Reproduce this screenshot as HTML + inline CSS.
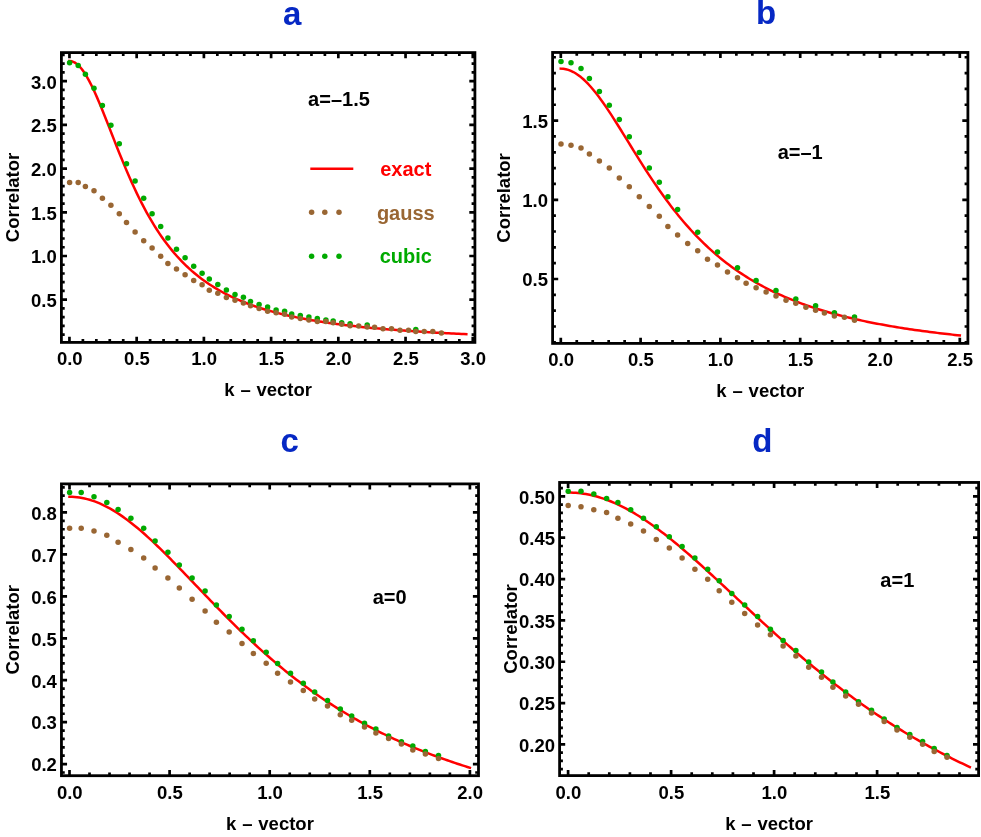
<!DOCTYPE html>
<html><head><meta charset="utf-8"><title>Correlator plots</title>
<style>
html,body{margin:0;padding:0;background:#fff;}
svg{display:block;will-change:transform;}
text{font-family:"Liberation Sans",sans-serif;font-weight:bold;}
.lb{font-size:18.5px;fill:#000;}
.an{font-size:20px;fill:#000;}
.tt{font-size:33px;fill:#0628c4;}
</style></head><body>
<svg width="981" height="837" viewBox="0 0 981 837">
<rect x="0" y="0" width="981" height="837" fill="#ffffff"/>
<g id="panel-a">
<polyline points="69.45,61.00 71.95,61.35 74.44,62.37 76.94,64.05 79.43,66.38 81.93,69.31 84.43,72.82 86.92,76.84 89.42,81.34 91.91,86.26 94.41,91.54 96.91,97.13 99.40,102.97 101.90,109.02 104.39,115.21 106.89,121.51 109.39,127.87 111.88,134.24 114.38,140.61 116.87,146.93 119.37,153.17 121.87,159.32 124.36,165.36 126.86,171.26 129.35,177.02 131.85,182.63 134.35,188.08 136.84,193.36 139.34,198.47 141.83,203.41 144.33,208.18 146.83,212.78 149.32,217.22 151.82,221.48 154.31,225.59 156.81,229.54 159.31,233.33 161.80,236.97 164.30,240.47 166.79,243.83 169.29,247.06 171.79,250.15 174.28,253.12 176.78,255.97 179.27,258.71 181.77,261.34 184.27,263.86 186.76,266.28 189.26,268.60 191.75,270.83 194.25,272.97 196.75,275.03 199.24,277.01 201.74,278.91 204.23,280.74 206.73,282.50 209.23,284.19 211.72,285.81 214.22,287.38 216.72,288.89 219.21,290.34 221.71,291.73 224.20,293.08 226.70,294.38 229.20,295.63 231.69,296.83 234.19,298.00 236.68,299.12 239.18,300.20 241.68,301.25 244.17,302.26 246.67,303.24 249.16,304.18 251.66,305.09 254.16,305.97 256.65,306.83 259.15,307.65 261.64,308.45 264.14,309.22 266.64,309.97 269.13,310.70 271.63,311.40 274.12,312.08 276.62,312.74 279.12,313.38 281.61,314.00 284.11,314.60 286.60,315.18 289.10,315.75 291.60,316.30 294.09,316.83 296.59,317.35 299.08,317.86 301.58,318.35 304.08,318.82 306.57,319.29 309.07,319.74 311.56,320.18 314.06,320.60 316.56,321.02 319.05,321.42 321.55,321.82 324.04,322.20 326.54,322.57 329.04,322.93 331.53,323.29 334.03,323.63 336.52,323.97 339.02,324.30 341.52,324.62 344.01,324.93 346.51,325.23 349.00,325.53 351.50,325.82 354.00,326.10 356.49,326.38 358.99,326.65 361.48,326.91 363.98,327.17 366.48,327.42 368.97,327.67 371.47,327.91 373.96,328.14 376.46,328.37 378.96,328.60 381.45,328.82 383.95,329.03 386.44,329.24 388.94,329.45 391.44,329.65 393.93,329.84 396.43,330.04 398.92,330.22 401.42,330.41 403.92,330.59 406.41,330.77 408.91,330.94 411.40,331.11 413.90,331.28 416.40,331.44 418.89,331.60 421.39,331.76 423.88,331.91 426.38,332.06 428.88,332.21 431.37,332.35 433.87,332.49 436.36,332.63 438.86,332.77 441.36,332.90 443.85,333.04 446.35,333.16 448.84,333.29 451.34,333.42 453.84,333.54 456.33,333.66 458.83,333.78 461.32,333.89 463.82,334.00 466.32,334.12" fill="none" stroke="#ff0000" stroke-width="2.5" stroke-linecap="square" stroke-linejoin="round"/>
<g fill="#00aa00"><circle cx="69.6" cy="62.8" r="2.75"/><circle cx="78.2" cy="65.4" r="2.75"/><circle cx="85.4" cy="74.2" r="2.75"/><circle cx="94.0" cy="88.3" r="2.75"/><circle cx="102.4" cy="105.4" r="2.75"/><circle cx="110.9" cy="125.3" r="2.75"/><circle cx="119.3" cy="143.7" r="2.75"/><circle cx="126.5" cy="163.7" r="2.75"/><circle cx="135.1" cy="181.0" r="2.75"/><circle cx="143.7" cy="198.2" r="2.75"/><circle cx="152.1" cy="213.7" r="2.75"/><circle cx="160.7" cy="226.6" r="2.75"/><circle cx="167.9" cy="237.9" r="2.75"/><circle cx="176.5" cy="249.3" r="2.75"/><circle cx="185.1" cy="257.7" r="2.75"/><circle cx="193.7" cy="266.3" r="2.75"/><circle cx="202.1" cy="273.3" r="2.75"/><circle cx="209.3" cy="278.9" r="2.75"/><circle cx="217.8" cy="284.5" r="2.75"/><circle cx="226.4" cy="290.1" r="2.75"/><circle cx="235.0" cy="294.5" r="2.75"/><circle cx="243.4" cy="297.3" r="2.75"/><circle cx="250.5" cy="301.6" r="2.75"/><circle cx="259.1" cy="304.5" r="2.75"/><circle cx="267.6" cy="307.1" r="2.75"/><circle cx="276.1" cy="310.0" r="2.75"/><circle cx="284.6" cy="311.3" r="2.75"/><circle cx="291.7" cy="314.0" r="2.75"/><circle cx="300.3" cy="315.6" r="2.75"/><circle cx="308.9" cy="317.1" r="2.75"/><circle cx="317.3" cy="318.6" r="2.75"/><circle cx="325.9" cy="319.9" r="2.75"/><circle cx="333.2" cy="321.1" r="2.75"/><circle cx="341.7" cy="322.8" r="2.75"/><circle cx="350.1" cy="323.8" r="2.75"/><circle cx="367.2" cy="325.0" r="2.75"/><circle cx="415.8" cy="329.5" r="2.75"/></g>
<g fill="#996633"><circle cx="69.6" cy="182.4" r="2.75"/><circle cx="78.2" cy="182.4" r="2.75"/><circle cx="85.4" cy="186.6" r="2.75"/><circle cx="94.0" cy="190.8" r="2.75"/><circle cx="102.4" cy="198.2" r="2.75"/><circle cx="110.9" cy="205.2" r="2.75"/><circle cx="119.3" cy="213.8" r="2.75"/><circle cx="126.5" cy="222.4" r="2.75"/><circle cx="135.1" cy="232.1" r="2.75"/><circle cx="143.7" cy="240.7" r="2.75"/><circle cx="152.1" cy="247.9" r="2.75"/><circle cx="160.7" cy="256.3" r="2.75"/><circle cx="167.9" cy="263.5" r="2.75"/><circle cx="176.5" cy="269.1" r="2.75"/><circle cx="185.1" cy="274.7" r="2.75"/><circle cx="193.7" cy="280.5" r="2.75"/><circle cx="202.1" cy="284.7" r="2.75"/><circle cx="209.3" cy="290.3" r="2.75"/><circle cx="217.8" cy="293.3" r="2.75"/><circle cx="226.4" cy="297.5" r="2.75"/><circle cx="235.0" cy="300.3" r="2.75"/><circle cx="243.4" cy="303.0" r="2.75"/><circle cx="250.5" cy="305.8" r="2.75"/><circle cx="259.1" cy="308.5" r="2.75"/><circle cx="267.6" cy="311.2" r="2.75"/><circle cx="276.1" cy="312.8" r="2.75"/><circle cx="284.6" cy="314.3" r="2.75"/><circle cx="291.7" cy="317.1" r="2.75"/><circle cx="300.3" cy="318.6" r="2.75"/><circle cx="308.9" cy="319.9" r="2.75"/><circle cx="317.3" cy="321.4" r="2.75"/><circle cx="325.9" cy="321.4" r="2.75"/><circle cx="333.2" cy="322.8" r="2.75"/><circle cx="341.7" cy="324.2" r="2.75"/><circle cx="350.1" cy="325.7" r="2.75"/><circle cx="358.7" cy="326.0" r="2.75"/><circle cx="367.2" cy="327.1" r="2.75"/><circle cx="374.6" cy="327.3" r="2.75"/><circle cx="383.0" cy="328.7" r="2.75"/><circle cx="391.5" cy="328.7" r="2.75"/><circle cx="400.0" cy="330.2" r="2.75"/><circle cx="408.5" cy="330.2" r="2.75"/><circle cx="415.8" cy="331.4" r="2.75"/><circle cx="424.2" cy="331.4" r="2.75"/><circle cx="432.8" cy="331.6" r="2.75"/><circle cx="441.4" cy="333.0" r="2.75"/></g>
<path d="M69.45 342.40v-5.60M69.45 52.60v5.60M82.89 342.40v-3.30M82.89 52.60v3.30M96.34 342.40v-3.30M96.34 52.60v3.30M109.78 342.40v-3.30M109.78 52.60v3.30M123.23 342.40v-3.30M123.23 52.60v3.30M136.67 342.40v-5.60M136.67 52.60v5.60M150.11 342.40v-3.30M150.11 52.60v3.30M163.56 342.40v-3.30M163.56 52.60v3.30M177.00 342.40v-3.30M177.00 52.60v3.30M190.45 342.40v-3.30M190.45 52.60v3.30M203.89 342.40v-5.60M203.89 52.60v5.60M217.33 342.40v-3.30M217.33 52.60v3.30M230.78 342.40v-3.30M230.78 52.60v3.30M244.22 342.40v-3.30M244.22 52.60v3.30M257.67 342.40v-3.30M257.67 52.60v3.30M271.11 342.40v-5.60M271.11 52.60v5.60M284.55 342.40v-3.30M284.55 52.60v3.30M298.00 342.40v-3.30M298.00 52.60v3.30M311.44 342.40v-3.30M311.44 52.60v3.30M324.89 342.40v-3.30M324.89 52.60v3.30M338.33 342.40v-5.60M338.33 52.60v5.60M351.77 342.40v-3.30M351.77 52.60v3.30M365.22 342.40v-3.30M365.22 52.60v3.30M378.66 342.40v-3.30M378.66 52.60v3.30M392.11 342.40v-3.30M392.11 52.60v3.30M405.55 342.40v-5.60M405.55 52.60v5.60M418.99 342.40v-3.30M418.99 52.60v3.30M432.44 342.40v-3.30M432.44 52.60v3.30M445.88 342.40v-3.30M445.88 52.60v3.30M459.33 342.40v-3.30M459.33 52.60v3.30M472.77 342.40v-5.60M472.77 52.60v5.60M61.40 334.66h3.30M474.90 334.66h-3.30M61.40 325.92h3.30M474.90 325.92h-3.30M61.40 317.18h3.30M474.90 317.18h-3.30M61.40 308.44h3.30M474.90 308.44h-3.30M61.40 299.70h5.60M474.90 299.70h-5.60M61.40 290.96h3.30M474.90 290.96h-3.30M61.40 282.22h3.30M474.90 282.22h-3.30M61.40 273.48h3.30M474.90 273.48h-3.30M61.40 264.74h3.30M474.90 264.74h-3.30M61.40 256.00h5.60M474.90 256.00h-5.60M61.40 247.26h3.30M474.90 247.26h-3.30M61.40 238.52h3.30M474.90 238.52h-3.30M61.40 229.78h3.30M474.90 229.78h-3.30M61.40 221.04h3.30M474.90 221.04h-3.30M61.40 212.30h5.60M474.90 212.30h-5.60M61.40 203.56h3.30M474.90 203.56h-3.30M61.40 194.82h3.30M474.90 194.82h-3.30M61.40 186.08h3.30M474.90 186.08h-3.30M61.40 177.34h3.30M474.90 177.34h-3.30M61.40 168.60h5.60M474.90 168.60h-5.60M61.40 159.86h3.30M474.90 159.86h-3.30M61.40 151.12h3.30M474.90 151.12h-3.30M61.40 142.38h3.30M474.90 142.38h-3.30M61.40 133.64h3.30M474.90 133.64h-3.30M61.40 124.90h5.60M474.90 124.90h-5.60M61.40 116.16h3.30M474.90 116.16h-3.30M61.40 107.42h3.30M474.90 107.42h-3.30M61.40 98.68h3.30M474.90 98.68h-3.30M61.40 89.94h3.30M474.90 89.94h-3.30M61.40 81.20h5.60M474.90 81.20h-5.60M61.40 72.46h3.30M474.90 72.46h-3.30M61.40 63.72h3.30M474.90 63.72h-3.30M61.40 54.98h3.30M474.90 54.98h-3.30" stroke="#000" stroke-width="2.7" fill="none"/>
<rect x="61.40" y="52.60" width="413.50" height="289.80" fill="none" stroke="#000" stroke-width="2.8"/>
<text class="lb" x="69.75" y="365.40" text-anchor="middle">0.0</text><text class="lb" x="136.97" y="365.40" text-anchor="middle">0.5</text><text class="lb" x="204.19" y="365.40" text-anchor="middle">1.0</text><text class="lb" x="271.41" y="365.40" text-anchor="middle">1.5</text><text class="lb" x="338.63" y="365.40" text-anchor="middle">2.0</text><text class="lb" x="405.85" y="365.40" text-anchor="middle">2.5</text><text class="lb" x="473.07" y="365.40" text-anchor="middle">3.0</text>
<text class="lb" x="56.80" y="307.00" text-anchor="end">0.5</text><text class="lb" x="56.80" y="263.30" text-anchor="end">1.0</text><text class="lb" x="56.80" y="219.60" text-anchor="end">1.5</text><text class="lb" x="56.80" y="175.90" text-anchor="end">2.0</text><text class="lb" x="56.80" y="132.20" text-anchor="end">2.5</text><text class="lb" x="56.80" y="88.50" text-anchor="end">3.0</text>
<text class="lb" x="268.15" y="396.40" text-anchor="middle" style="word-spacing:0.7px" xml:space="preserve">k – vector</text>
<text class="lb" transform="translate(19.20 197.50) rotate(-90)" text-anchor="middle">Correlator</text>
<text class="tt" x="292.2" y="24.8" text-anchor="middle">a</text>
<text class="an" x="338.95" y="105.80" text-anchor="middle">a=–1.5</text>
<line x1="310.3" y1="168.7" x2="353.3" y2="168.7" stroke="#ff0000" stroke-width="2.5"/>
<circle cx="311.6" cy="212.2" r="2.75" fill="#996633"/><circle cx="324.8" cy="212.2" r="2.75" fill="#996633"/><circle cx="339.0" cy="212.2" r="2.75" fill="#996633"/><circle cx="311.6" cy="256.2" r="2.75" fill="#00aa00"/><circle cx="324.8" cy="256.2" r="2.75" fill="#00aa00"/><circle cx="339.0" cy="256.2" r="2.75" fill="#00aa00"/>
<text class="an" x="405.8" y="175.5" text-anchor="middle" style="fill:#ff0000">exact</text>
<text class="an" x="405.8" y="219.7" text-anchor="middle" style="fill:#996633">gauss</text>
<text class="an" x="405.8" y="263.4" text-anchor="middle" style="fill:#00aa00">cubic</text>
</g>
<g id="panel-b">
<polyline points="560.80,68.66 563.31,68.79 565.82,69.20 568.33,69.88 570.84,70.82 573.35,72.02 575.86,73.47 578.37,75.17 580.88,77.10 583.38,79.26 585.89,81.64 588.40,84.22 590.91,86.99 593.42,89.94 595.93,93.05 598.44,96.32 600.95,99.72 603.46,103.24 605.97,106.88 608.48,110.61 610.99,114.42 613.50,118.31 616.01,122.25 618.52,126.24 621.03,130.27 623.54,134.32 626.05,138.38 628.55,142.45 631.06,146.52 633.57,150.58 636.08,154.61 638.59,158.63 641.10,162.61 643.61,166.55 646.12,170.45 648.63,174.31 651.14,178.11 653.65,181.87 656.16,185.56 658.67,189.19 661.18,192.77 663.69,196.28 666.20,199.72 668.71,203.10 671.22,206.41 673.72,209.65 676.23,212.83 678.74,215.94 681.25,218.98 683.76,221.95 686.27,224.86 688.78,227.70 691.29,230.47 693.80,233.18 696.31,235.82 698.82,238.40 701.33,240.92 703.84,243.37 706.35,245.77 708.86,248.10 711.37,250.38 713.88,252.61 716.38,254.77 718.89,256.88 721.40,258.94 723.91,260.95 726.42,262.91 728.93,264.81 731.44,266.67 733.95,268.48 736.46,270.25 738.97,271.97 741.48,273.65 743.99,275.29 746.50,276.88 749.01,278.44 751.52,279.95 754.03,281.43 756.54,282.87 759.05,284.28 761.55,285.65 764.06,286.99 766.57,288.29 769.08,289.56 771.59,290.80 774.10,292.02 776.61,293.20 779.12,294.35 781.63,295.48 784.14,296.57 786.65,297.65 789.16,298.69 791.67,299.71 794.18,300.71 796.69,301.69 799.20,302.64 801.71,303.57 804.22,304.47 806.72,305.36 809.23,306.23 811.74,307.08 814.25,307.90 816.76,308.71 819.27,309.50 821.78,310.28 824.29,311.03 826.80,311.77 829.31,312.50 831.82,313.20 834.33,313.89 836.84,314.57 839.35,315.23 841.86,315.88 844.37,316.52 846.88,317.14 849.38,317.75 851.89,318.34 854.40,318.92 856.91,319.49 859.42,320.05 861.93,320.60 864.44,321.14 866.95,321.66 869.46,322.17 871.97,322.68 874.48,323.17 876.99,323.66 879.50,324.13 882.01,324.60 884.52,325.05 887.03,325.50 889.54,325.94 892.05,326.37 894.55,326.79 897.06,327.21 899.57,327.61 902.08,328.01 904.59,328.40 907.10,328.78 909.61,329.16 912.12,329.53 914.63,329.89 917.14,330.25 919.65,330.60 922.16,330.94 924.67,331.28 927.18,331.61 929.69,331.94 932.20,332.26 934.71,332.57 937.22,332.88 939.72,333.18 942.23,333.48 944.74,333.77 947.25,334.06 949.76,334.34 952.27,334.62 954.78,334.89 957.29,335.16 959.80,335.42" fill="none" stroke="#ff0000" stroke-width="2.5" stroke-linecap="square" stroke-linejoin="round"/>
<g fill="#00aa00"><circle cx="561.0" cy="61.4" r="2.75"/><circle cx="571.0" cy="62.8" r="2.75"/><circle cx="581.0" cy="68.6" r="2.75"/><circle cx="589.4" cy="78.6" r="2.75"/><circle cx="599.4" cy="91.4" r="2.75"/><circle cx="609.3" cy="105.3" r="2.75"/><circle cx="619.3" cy="119.5" r="2.75"/><circle cx="629.3" cy="136.7" r="2.75"/><circle cx="639.3" cy="152.5" r="2.75"/><circle cx="649.3" cy="168.1" r="2.75"/><circle cx="659.3" cy="182.3" r="2.75"/><circle cx="667.9" cy="196.7" r="2.75"/><circle cx="677.6" cy="209.4" r="2.75"/><circle cx="697.7" cy="232.3" r="2.75"/><circle cx="717.5" cy="252.1" r="2.75"/><circle cx="737.5" cy="267.7" r="2.75"/><circle cx="756.1" cy="280.5" r="2.75"/><circle cx="776.0" cy="290.5" r="2.75"/><circle cx="795.8" cy="298.9" r="2.75"/><circle cx="815.6" cy="305.8" r="2.75"/><circle cx="834.4" cy="312.8" r="2.75"/><circle cx="854.5" cy="317.1" r="2.75"/></g>
<g fill="#996633"><circle cx="561.0" cy="143.9" r="2.75"/><circle cx="571.0" cy="145.3" r="2.75"/><circle cx="581.0" cy="148.1" r="2.75"/><circle cx="589.4" cy="153.9" r="2.75"/><circle cx="599.4" cy="160.9" r="2.75"/><circle cx="609.3" cy="168.1" r="2.75"/><circle cx="619.3" cy="178.1" r="2.75"/><circle cx="629.3" cy="186.7" r="2.75"/><circle cx="639.3" cy="196.7" r="2.75"/><circle cx="649.3" cy="206.5" r="2.75"/><circle cx="659.3" cy="216.2" r="2.75"/><circle cx="667.9" cy="226.6" r="2.75"/><circle cx="677.6" cy="234.9" r="2.75"/><circle cx="687.7" cy="243.5" r="2.75"/><circle cx="697.7" cy="250.7" r="2.75"/><circle cx="707.5" cy="259.3" r="2.75"/><circle cx="717.5" cy="264.9" r="2.75"/><circle cx="727.5" cy="271.9" r="2.75"/><circle cx="737.5" cy="277.7" r="2.75"/><circle cx="746.1" cy="283.3" r="2.75"/><circle cx="756.1" cy="287.7" r="2.75"/><circle cx="766.1" cy="291.9" r="2.75"/><circle cx="776.0" cy="296.1" r="2.75"/><circle cx="786.0" cy="300.3" r="2.75"/><circle cx="795.8" cy="303.3" r="2.75"/><circle cx="805.9" cy="307.3" r="2.75"/><circle cx="815.6" cy="310.3" r="2.75"/><circle cx="824.4" cy="313.1" r="2.75"/><circle cx="834.4" cy="315.9" r="2.75"/><circle cx="844.4" cy="317.3" r="2.75"/><circle cx="854.5" cy="320.2" r="2.75"/></g>
<path d="M560.80 343.40v-5.60M560.80 52.45v5.60M576.76 343.40v-3.30M576.76 52.45v3.30M592.72 343.40v-3.30M592.72 52.45v3.30M608.68 343.40v-3.30M608.68 52.45v3.30M624.64 343.40v-3.30M624.64 52.45v3.30M640.60 343.40v-5.60M640.60 52.45v5.60M656.56 343.40v-3.30M656.56 52.45v3.30M672.52 343.40v-3.30M672.52 52.45v3.30M688.48 343.40v-3.30M688.48 52.45v3.30M704.44 343.40v-3.30M704.44 52.45v3.30M720.40 343.40v-5.60M720.40 52.45v5.60M736.36 343.40v-3.30M736.36 52.45v3.30M752.32 343.40v-3.30M752.32 52.45v3.30M768.28 343.40v-3.30M768.28 52.45v3.30M784.24 343.40v-3.30M784.24 52.45v3.30M800.20 343.40v-5.60M800.20 52.45v5.60M816.16 343.40v-3.30M816.16 52.45v3.30M832.12 343.40v-3.30M832.12 52.45v3.30M848.08 343.40v-3.30M848.08 52.45v3.30M864.04 343.40v-3.30M864.04 52.45v3.30M880.00 343.40v-5.60M880.00 52.45v5.60M895.96 343.40v-3.30M895.96 52.45v3.30M911.92 343.40v-3.30M911.92 52.45v3.30M927.88 343.40v-3.30M927.88 52.45v3.30M943.84 343.40v-3.30M943.84 52.45v3.30M959.80 343.40v-5.60M959.80 52.45v5.60M552.60 342.36h3.30M967.90 342.36h-3.30M552.60 326.52h3.30M967.90 326.52h-3.30M552.60 310.68h3.30M967.90 310.68h-3.30M552.60 294.84h3.30M967.90 294.84h-3.30M552.60 279.00h5.60M967.90 279.00h-5.60M552.60 263.16h3.30M967.90 263.16h-3.30M552.60 247.32h3.30M967.90 247.32h-3.30M552.60 231.48h3.30M967.90 231.48h-3.30M552.60 215.64h3.30M967.90 215.64h-3.30M552.60 199.80h5.60M967.90 199.80h-5.60M552.60 183.96h3.30M967.90 183.96h-3.30M552.60 168.12h3.30M967.90 168.12h-3.30M552.60 152.28h3.30M967.90 152.28h-3.30M552.60 136.44h3.30M967.90 136.44h-3.30M552.60 120.60h5.60M967.90 120.60h-5.60M552.60 104.76h3.30M967.90 104.76h-3.30M552.60 88.92h3.30M967.90 88.92h-3.30M552.60 73.08h3.30M967.90 73.08h-3.30M552.60 57.24h3.30M967.90 57.24h-3.30" stroke="#000" stroke-width="2.7" fill="none"/>
<rect x="552.60" y="52.45" width="415.30" height="290.95" fill="none" stroke="#000" stroke-width="2.8"/>
<text class="lb" x="561.10" y="366.40" text-anchor="middle">0.0</text><text class="lb" x="640.90" y="366.40" text-anchor="middle">0.5</text><text class="lb" x="720.70" y="366.40" text-anchor="middle">1.0</text><text class="lb" x="800.50" y="366.40" text-anchor="middle">1.5</text><text class="lb" x="880.30" y="366.40" text-anchor="middle">2.0</text><text class="lb" x="960.10" y="366.40" text-anchor="middle">2.5</text>
<text class="lb" x="548.00" y="286.30" text-anchor="end">0.5</text><text class="lb" x="548.00" y="207.10" text-anchor="end">1.0</text><text class="lb" x="548.00" y="127.90" text-anchor="end">1.5</text>
<text class="lb" x="760.25" y="397.40" text-anchor="middle" style="word-spacing:0.7px" xml:space="preserve">k – vector</text>
<text class="lb" transform="translate(510.40 197.92) rotate(-90)" text-anchor="middle">Correlator</text>
<text class="tt" x="766" y="24.3" text-anchor="middle">b</text>
<text class="an" x="800.20" y="159.30" text-anchor="middle">a=–1</text>
</g>
<g id="panel-c">
<polyline points="69.50,496.80 72.02,496.85 74.54,496.99 77.05,497.22 79.57,497.55 82.09,497.97 84.61,498.48 87.13,499.09 89.65,499.78 92.16,500.57 94.68,501.44 97.20,502.40 99.72,503.44 102.24,504.57 104.76,505.77 107.27,507.06 109.79,508.43 112.31,509.87 114.83,511.39 117.35,512.98 119.86,514.64 122.38,516.37 124.90,518.16 127.42,520.01 129.94,521.93 132.46,523.90 134.97,525.93 137.49,528.01 140.01,530.14 142.53,532.32 145.05,534.54 147.57,536.81 150.08,539.11 152.60,541.46 155.12,543.84 157.64,546.25 160.16,548.69 162.67,551.16 165.19,553.65 167.71,556.17 170.23,558.71 172.75,561.27 175.27,563.85 177.78,566.44 180.30,569.04 182.82,571.65 185.34,574.27 187.86,576.90 190.38,579.53 192.89,582.17 195.41,584.81 197.93,587.44 200.45,590.08 202.97,592.71 205.48,595.34 208.00,597.96 210.52,600.58 213.04,603.18 215.56,605.78 218.08,608.36 220.59,610.94 223.11,613.50 225.63,616.04 228.15,618.58 230.67,621.09 233.19,623.59 235.70,626.08 238.22,628.54 240.74,630.99 243.26,633.42 245.78,635.83 248.29,638.21 250.81,640.58 253.33,642.93 255.85,645.26 258.37,647.56 260.89,649.84 263.40,652.10 265.92,654.34 268.44,656.55 270.96,658.75 273.48,660.92 276.00,663.06 278.51,665.18 281.03,667.28 283.55,669.36 286.07,671.41 288.59,673.44 291.11,675.44 293.62,677.43 296.14,679.39 298.66,681.32 301.18,683.23 303.70,685.12 306.21,686.99 308.73,688.83 311.25,690.65 313.77,692.44 316.29,694.22 318.81,695.97 321.32,697.70 323.84,699.41 326.36,701.09 328.88,702.75 331.40,704.40 333.92,706.02 336.43,707.62 338.95,709.19 341.47,710.75 343.99,712.29 346.51,713.80 349.02,715.30 351.54,716.78 354.06,718.23 356.58,719.67 359.10,721.09 361.62,722.49 364.13,723.87 366.65,725.23 369.17,726.57 371.69,727.89 374.21,729.20 376.73,730.49 379.24,731.76 381.76,733.02 384.28,734.25 386.80,735.47 389.32,736.68 391.83,737.87 394.35,739.04 396.87,740.19 399.39,741.33 401.91,742.46 404.43,743.57 406.94,744.66 409.46,745.74 411.98,746.81 414.50,747.86 417.02,748.90 419.54,749.92 422.05,750.93 424.57,751.92 427.09,752.90 429.61,753.87 432.13,754.83 434.64,755.77 437.16,756.70 439.68,757.62 442.20,758.53 444.72,759.42 447.24,760.30 449.75,761.17 452.27,762.03 454.79,762.88 457.31,763.71 459.83,764.54 462.35,765.35 464.86,766.16 467.38,766.95 469.90,767.73" fill="none" stroke="#ff0000" stroke-width="2.5" stroke-linecap="square" stroke-linejoin="round"/>
<g fill="#00aa00"><circle cx="69.6" cy="492.4" r="2.75"/><circle cx="81.2" cy="492.4" r="2.75"/><circle cx="94.0" cy="496.8" r="2.75"/><circle cx="106.8" cy="502.4" r="2.75"/><circle cx="118.1" cy="509.6" r="2.75"/><circle cx="130.9" cy="518.2" r="2.75"/><circle cx="143.7" cy="528.2" r="2.75"/><circle cx="155.1" cy="541.1" r="2.75"/><circle cx="167.9" cy="552.3" r="2.75"/><circle cx="179.3" cy="565.1" r="2.75"/><circle cx="192.1" cy="578.1" r="2.75"/><circle cx="205.1" cy="590.9" r="2.75"/><circle cx="216.4" cy="605.1" r="2.75"/><circle cx="229.2" cy="616.5" r="2.75"/><circle cx="242.0" cy="629.3" r="2.75"/><circle cx="253.4" cy="640.8" r="2.75"/><circle cx="266.2" cy="652.2" r="2.75"/><circle cx="277.6" cy="663.5" r="2.75"/><circle cx="290.5" cy="673.3" r="2.75"/><circle cx="303.3" cy="683.3" r="2.75"/><circle cx="314.7" cy="691.9" r="2.75"/><circle cx="327.5" cy="700.5" r="2.75"/><circle cx="340.3" cy="709.1" r="2.75"/><circle cx="351.7" cy="716.1" r="2.75"/><circle cx="364.5" cy="723.3" r="2.75"/><circle cx="375.9" cy="728.9" r="2.75"/><circle cx="388.6" cy="735.9" r="2.75"/><circle cx="401.4" cy="741.7" r="2.75"/><circle cx="412.8" cy="745.9" r="2.75"/><circle cx="425.4" cy="751.5" r="2.75"/><circle cx="438.5" cy="755.6" r="2.75"/></g>
<g fill="#996633"><circle cx="69.6" cy="528.2" r="2.75"/><circle cx="81.2" cy="528.2" r="2.75"/><circle cx="94.0" cy="531.0" r="2.75"/><circle cx="106.8" cy="535.3" r="2.75"/><circle cx="118.1" cy="542.3" r="2.75"/><circle cx="130.9" cy="549.5" r="2.75"/><circle cx="143.7" cy="558.1" r="2.75"/><circle cx="155.1" cy="568.1" r="2.75"/><circle cx="167.9" cy="578.1" r="2.75"/><circle cx="179.3" cy="587.9" r="2.75"/><circle cx="192.1" cy="599.3" r="2.75"/><circle cx="205.1" cy="610.9" r="2.75"/><circle cx="216.4" cy="622.3" r="2.75"/><circle cx="229.2" cy="632.1" r="2.75"/><circle cx="242.0" cy="643.4" r="2.75"/><circle cx="253.4" cy="653.4" r="2.75"/><circle cx="266.2" cy="663.3" r="2.75"/><circle cx="277.6" cy="673.3" r="2.75"/><circle cx="290.5" cy="681.9" r="2.75"/><circle cx="303.3" cy="690.5" r="2.75"/><circle cx="314.7" cy="698.9" r="2.75"/><circle cx="327.5" cy="706.1" r="2.75"/><circle cx="340.3" cy="714.7" r="2.75"/><circle cx="351.7" cy="720.3" r="2.75"/><circle cx="364.5" cy="727.1" r="2.75"/><circle cx="375.9" cy="732.9" r="2.75"/><circle cx="388.6" cy="738.5" r="2.75"/><circle cx="401.4" cy="744.1" r="2.75"/><circle cx="412.8" cy="749.9" r="2.75"/><circle cx="425.4" cy="754.1" r="2.75"/><circle cx="438.5" cy="758.5" r="2.75"/></g>
<path d="M69.50 775.70v-5.60M69.50 483.90v5.60M89.52 775.70v-3.30M89.52 483.90v3.30M109.54 775.70v-3.30M109.54 483.90v3.30M129.56 775.70v-3.30M129.56 483.90v3.30M149.58 775.70v-3.30M149.58 483.90v3.30M169.60 775.70v-5.60M169.60 483.90v5.60M189.62 775.70v-3.30M189.62 483.90v3.30M209.64 775.70v-3.30M209.64 483.90v3.30M229.66 775.70v-3.30M229.66 483.90v3.30M249.68 775.70v-3.30M249.68 483.90v3.30M269.70 775.70v-5.60M269.70 483.90v5.60M289.72 775.70v-3.30M289.72 483.90v3.30M309.74 775.70v-3.30M309.74 483.90v3.30M329.76 775.70v-3.30M329.76 483.90v3.30M349.78 775.70v-3.30M349.78 483.90v3.30M369.80 775.70v-5.60M369.80 483.90v5.60M389.82 775.70v-3.30M389.82 483.90v3.30M409.84 775.70v-3.30M409.84 483.90v3.30M429.86 775.70v-3.30M429.86 483.90v3.30M449.88 775.70v-3.30M449.88 483.90v3.30M469.90 775.70v-5.60M469.90 483.90v5.60M61.45 772.49h3.30M478.50 772.49h-3.30M61.45 764.10h5.60M478.50 764.10h-5.60M61.45 755.71h3.30M478.50 755.71h-3.30M61.45 747.32h3.30M478.50 747.32h-3.30M61.45 738.94h3.30M478.50 738.94h-3.30M61.45 730.55h3.30M478.50 730.55h-3.30M61.45 722.16h5.60M478.50 722.16h-5.60M61.45 713.77h3.30M478.50 713.77h-3.30M61.45 705.38h3.30M478.50 705.38h-3.30M61.45 697.00h3.30M478.50 697.00h-3.30M61.45 688.61h3.30M478.50 688.61h-3.30M61.45 680.22h5.60M478.50 680.22h-5.60M61.45 671.83h3.30M478.50 671.83h-3.30M61.45 663.44h3.30M478.50 663.44h-3.30M61.45 655.06h3.30M478.50 655.06h-3.30M61.45 646.67h3.30M478.50 646.67h-3.30M61.45 638.28h5.60M478.50 638.28h-5.60M61.45 629.89h3.30M478.50 629.89h-3.30M61.45 621.50h3.30M478.50 621.50h-3.30M61.45 613.12h3.30M478.50 613.12h-3.30M61.45 604.73h3.30M478.50 604.73h-3.30M61.45 596.34h5.60M478.50 596.34h-5.60M61.45 587.95h3.30M478.50 587.95h-3.30M61.45 579.56h3.30M478.50 579.56h-3.30M61.45 571.18h3.30M478.50 571.18h-3.30M61.45 562.79h3.30M478.50 562.79h-3.30M61.45 554.40h5.60M478.50 554.40h-5.60M61.45 546.01h3.30M478.50 546.01h-3.30M61.45 537.62h3.30M478.50 537.62h-3.30M61.45 529.24h3.30M478.50 529.24h-3.30M61.45 520.85h3.30M478.50 520.85h-3.30M61.45 512.46h5.60M478.50 512.46h-5.60M61.45 504.07h3.30M478.50 504.07h-3.30M61.45 495.68h3.30M478.50 495.68h-3.30M61.45 487.30h3.30M478.50 487.30h-3.30" stroke="#000" stroke-width="2.7" fill="none"/>
<rect x="61.45" y="483.90" width="417.05" height="291.80" fill="none" stroke="#000" stroke-width="2.8"/>
<text class="lb" x="69.80" y="798.70" text-anchor="middle">0.0</text><text class="lb" x="169.90" y="798.70" text-anchor="middle">0.5</text><text class="lb" x="270.00" y="798.70" text-anchor="middle">1.0</text><text class="lb" x="370.10" y="798.70" text-anchor="middle">1.5</text><text class="lb" x="470.20" y="798.70" text-anchor="middle">2.0</text>
<text class="lb" x="56.85" y="771.40" text-anchor="end">0.2</text><text class="lb" x="56.85" y="729.46" text-anchor="end">0.3</text><text class="lb" x="56.85" y="687.52" text-anchor="end">0.4</text><text class="lb" x="56.85" y="645.58" text-anchor="end">0.5</text><text class="lb" x="56.85" y="603.64" text-anchor="end">0.6</text><text class="lb" x="56.85" y="561.70" text-anchor="end">0.7</text><text class="lb" x="56.85" y="519.76" text-anchor="end">0.8</text>
<text class="lb" x="269.98" y="829.70" text-anchor="middle" style="word-spacing:0.7px" xml:space="preserve">k – vector</text>
<text class="lb" transform="translate(19.25 629.80) rotate(-90)" text-anchor="middle">Correlator</text>
<text class="tt" x="289.7" y="451.6" text-anchor="middle">c</text>
<text class="an" x="389.70" y="603.80" text-anchor="middle">a=0</text>
</g>
<g id="panel-d">
<polyline points="568.10,492.52 570.63,492.55 573.15,492.65 575.68,492.80 578.21,493.03 580.73,493.31 583.26,493.66 585.78,494.07 588.31,494.54 590.84,495.08 593.36,495.67 595.89,496.33 598.42,497.04 600.94,497.82 603.47,498.66 606.00,499.55 608.52,500.50 611.05,501.50 613.58,502.57 616.10,503.68 618.63,504.85 621.15,506.08 623.68,507.35 626.21,508.68 628.73,510.05 631.26,511.48 633.79,512.95 636.31,514.47 638.84,516.03 641.37,517.63 643.89,519.28 646.42,520.97 648.95,522.70 651.47,524.47 654.00,526.28 656.52,528.12 659.05,530.00 661.58,531.91 664.10,533.86 666.63,535.83 669.16,537.84 671.68,539.87 674.21,541.93 676.74,544.02 679.26,546.13 681.79,548.27 684.32,550.43 686.84,552.60 689.37,554.80 691.89,557.02 694.42,559.25 696.95,561.50 699.47,563.77 702.00,566.05 704.53,568.34 707.05,570.64 709.58,572.96 712.11,575.28 714.63,577.61 717.16,579.95 719.68,582.30 722.21,584.65 724.74,587.00 727.26,589.36 729.79,591.72 732.32,594.09 734.84,596.45 737.37,598.82 739.90,601.18 742.42,603.54 744.95,605.90 747.48,608.26 750.00,610.62 752.53,612.96 755.05,615.31 757.58,617.65 760.11,619.98 762.63,622.31 765.16,624.62 767.69,626.94 770.21,629.24 772.74,631.53 775.27,633.81 777.79,636.09 780.32,638.35 782.85,640.60 785.37,642.85 787.90,645.08 790.42,647.29 792.95,649.50 795.48,651.69 798.00,653.88 800.53,656.04 803.06,658.20 805.58,660.34 808.11,662.47 810.64,664.58 813.16,666.68 815.69,668.76 818.22,670.83 820.74,672.89 823.27,674.93 825.79,676.95 828.32,678.96 830.85,680.96 833.37,682.94 835.90,684.90 838.43,686.85 840.95,688.78 843.48,690.70 846.01,692.60 848.53,694.48 851.06,696.35 853.58,698.20 856.11,700.04 858.64,701.86 861.16,703.67 863.69,705.46 866.22,707.23 868.74,708.99 871.27,710.73 873.80,712.46 876.32,714.17 878.85,715.86 881.38,717.54 883.90,719.21 886.43,720.85 888.95,722.49 891.48,724.10 894.01,725.71 896.53,727.29 899.06,728.86 901.59,730.42 904.11,731.96 906.64,733.49 909.17,735.00 911.69,736.50 914.22,737.98 916.75,739.45 919.27,740.90 921.80,742.34 924.32,743.76 926.85,745.17 929.38,746.57 931.90,747.95 934.43,749.32 936.96,750.67 939.48,752.01 942.01,753.34 944.54,754.66 947.06,755.96 949.59,757.24 952.12,758.52 954.64,759.78 957.17,761.03 959.69,762.27 962.22,763.49 964.75,764.70 967.27,765.90 969.80,767.09" fill="none" stroke="#ff0000" stroke-width="2.5" stroke-linecap="square" stroke-linejoin="round"/>
<g fill="#00aa00"><circle cx="568.2" cy="491.2" r="2.75"/><circle cx="581.0" cy="491.2" r="2.75"/><circle cx="593.8" cy="494.0" r="2.75"/><circle cx="606.6" cy="498.4" r="2.75"/><circle cx="617.9" cy="502.6" r="2.75"/><circle cx="630.7" cy="509.8" r="2.75"/><circle cx="643.5" cy="518.2" r="2.75"/><circle cx="656.3" cy="526.8" r="2.75"/><circle cx="669.3" cy="536.7" r="2.75"/><circle cx="682.1" cy="546.5" r="2.75"/><circle cx="694.9" cy="557.9" r="2.75"/><circle cx="707.7" cy="569.3" r="2.75"/><circle cx="719.2" cy="580.7" r="2.75"/><circle cx="731.8" cy="593.5" r="2.75"/><circle cx="744.7" cy="605.0" r="2.75"/><circle cx="757.6" cy="616.4" r="2.75"/><circle cx="770.4" cy="629.2" r="2.75"/><circle cx="783.1" cy="640.5" r="2.75"/><circle cx="795.9" cy="650.5" r="2.75"/><circle cx="808.7" cy="661.9" r="2.75"/><circle cx="821.5" cy="671.9" r="2.75"/><circle cx="832.9" cy="681.9" r="2.75"/><circle cx="845.7" cy="691.9" r="2.75"/><circle cx="858.5" cy="701.7" r="2.75"/><circle cx="871.5" cy="710.3" r="2.75"/><circle cx="884.2" cy="718.9" r="2.75"/><circle cx="897.0" cy="727.4" r="2.75"/><circle cx="909.8" cy="734.4" r="2.75"/><circle cx="922.6" cy="741.5" r="2.75"/><circle cx="934.2" cy="748.6" r="2.75"/><circle cx="947.0" cy="755.6" r="2.75"/></g>
<g fill="#996633"><circle cx="568.2" cy="505.4" r="2.75"/><circle cx="581.0" cy="506.8" r="2.75"/><circle cx="593.8" cy="509.8" r="2.75"/><circle cx="606.6" cy="512.4" r="2.75"/><circle cx="617.9" cy="518.2" r="2.75"/><circle cx="630.7" cy="524.0" r="2.75"/><circle cx="643.5" cy="530.9" r="2.75"/><circle cx="656.3" cy="539.5" r="2.75"/><circle cx="669.3" cy="548.1" r="2.75"/><circle cx="682.1" cy="557.9" r="2.75"/><circle cx="694.9" cy="569.3" r="2.75"/><circle cx="707.7" cy="579.3" r="2.75"/><circle cx="719.2" cy="590.7" r="2.75"/><circle cx="731.8" cy="602.2" r="2.75"/><circle cx="744.7" cy="613.5" r="2.75"/><circle cx="757.6" cy="625.0" r="2.75"/><circle cx="770.4" cy="634.8" r="2.75"/><circle cx="783.1" cy="646.1" r="2.75"/><circle cx="795.9" cy="655.9" r="2.75"/><circle cx="808.7" cy="667.3" r="2.75"/><circle cx="821.5" cy="677.3" r="2.75"/><circle cx="832.9" cy="687.3" r="2.75"/><circle cx="845.7" cy="695.9" r="2.75"/><circle cx="858.5" cy="704.3" r="2.75"/><circle cx="871.5" cy="712.9" r="2.75"/><circle cx="884.2" cy="721.5" r="2.75"/><circle cx="897.0" cy="729.9" r="2.75"/><circle cx="909.8" cy="737.2" r="2.75"/><circle cx="922.6" cy="744.2" r="2.75"/><circle cx="934.2" cy="751.4" r="2.75"/><circle cx="947.0" cy="757.2" r="2.75"/></g>
<path d="M568.10 775.60v-5.60M568.10 482.45v5.60M588.70 775.60v-3.30M588.70 482.45v3.30M609.30 775.60v-3.30M609.30 482.45v3.30M629.90 775.60v-3.30M629.90 482.45v3.30M650.50 775.60v-3.30M650.50 482.45v3.30M671.10 775.60v-5.60M671.10 482.45v5.60M691.70 775.60v-3.30M691.70 482.45v3.30M712.30 775.60v-3.30M712.30 482.45v3.30M732.90 775.60v-3.30M732.90 482.45v3.30M753.50 775.60v-3.30M753.50 482.45v3.30M774.10 775.60v-5.60M774.10 482.45v5.60M794.70 775.60v-3.30M794.70 482.45v3.30M815.30 775.60v-3.30M815.30 482.45v3.30M835.90 775.60v-3.30M835.90 482.45v3.30M856.50 775.60v-3.30M856.50 482.45v3.30M877.10 775.60v-5.60M877.10 482.45v5.60M897.70 775.60v-3.30M897.70 482.45v3.30M918.30 775.60v-3.30M918.30 482.45v3.30M938.90 775.60v-3.30M938.90 482.45v3.30M959.50 775.60v-3.30M959.50 482.45v3.30M559.60 769.20h3.30M978.60 769.20h-3.30M559.60 760.93h3.30M978.60 760.93h-3.30M559.60 752.67h3.30M978.60 752.67h-3.30M559.60 744.40h5.60M978.60 744.40h-5.60M559.60 736.13h3.30M978.60 736.13h-3.30M559.60 727.87h3.30M978.60 727.87h-3.30M559.60 719.60h3.30M978.60 719.60h-3.30M559.60 711.33h3.30M978.60 711.33h-3.30M559.60 703.06h5.60M978.60 703.06h-5.60M559.60 694.80h3.30M978.60 694.80h-3.30M559.60 686.53h3.30M978.60 686.53h-3.30M559.60 678.26h3.30M978.60 678.26h-3.30M559.60 670.00h3.30M978.60 670.00h-3.30M559.60 661.73h5.60M978.60 661.73h-5.60M559.60 653.46h3.30M978.60 653.46h-3.30M559.60 645.20h3.30M978.60 645.20h-3.30M559.60 636.93h3.30M978.60 636.93h-3.30M559.60 628.66h3.30M978.60 628.66h-3.30M559.60 620.39h5.60M978.60 620.39h-5.60M559.60 612.13h3.30M978.60 612.13h-3.30M559.60 603.86h3.30M978.60 603.86h-3.30M559.60 595.59h3.30M978.60 595.59h-3.30M559.60 587.33h3.30M978.60 587.33h-3.30M559.60 579.06h5.60M978.60 579.06h-5.60M559.60 570.79h3.30M978.60 570.79h-3.30M559.60 562.53h3.30M978.60 562.53h-3.30M559.60 554.26h3.30M978.60 554.26h-3.30M559.60 545.99h3.30M978.60 545.99h-3.30M559.60 537.72h5.60M978.60 537.72h-5.60M559.60 529.46h3.30M978.60 529.46h-3.30M559.60 521.19h3.30M978.60 521.19h-3.30M559.60 512.92h3.30M978.60 512.92h-3.30M559.60 504.66h3.30M978.60 504.66h-3.30M559.60 496.39h5.60M978.60 496.39h-5.60M559.60 488.12h3.30M978.60 488.12h-3.30" stroke="#000" stroke-width="2.7" fill="none"/>
<rect x="559.60" y="482.45" width="419.00" height="293.15" fill="none" stroke="#000" stroke-width="2.8"/>
<text class="lb" x="568.40" y="798.60" text-anchor="middle">0.0</text><text class="lb" x="671.40" y="798.60" text-anchor="middle">0.5</text><text class="lb" x="774.40" y="798.60" text-anchor="middle">1.0</text><text class="lb" x="877.40" y="798.60" text-anchor="middle">1.5</text>
<text class="lb" x="555.00" y="751.70" text-anchor="end">0.20</text><text class="lb" x="555.00" y="710.36" text-anchor="end">0.25</text><text class="lb" x="555.00" y="669.03" text-anchor="end">0.30</text><text class="lb" x="555.00" y="627.69" text-anchor="end">0.35</text><text class="lb" x="555.00" y="586.36" text-anchor="end">0.40</text><text class="lb" x="555.00" y="545.02" text-anchor="end">0.45</text><text class="lb" x="555.00" y="503.69" text-anchor="end">0.50</text>
<text class="lb" x="769.10" y="829.60" text-anchor="middle" style="word-spacing:0.7px" xml:space="preserve">k – vector</text>
<text class="lb" transform="translate(517.40 629.02) rotate(-90)" text-anchor="middle">Correlator</text>
<text class="tt" x="762.3" y="451.5" text-anchor="middle">d</text>
<text class="an" x="897.30" y="586.50" text-anchor="middle">a=1</text>
</g>
</svg>
</body></html>
